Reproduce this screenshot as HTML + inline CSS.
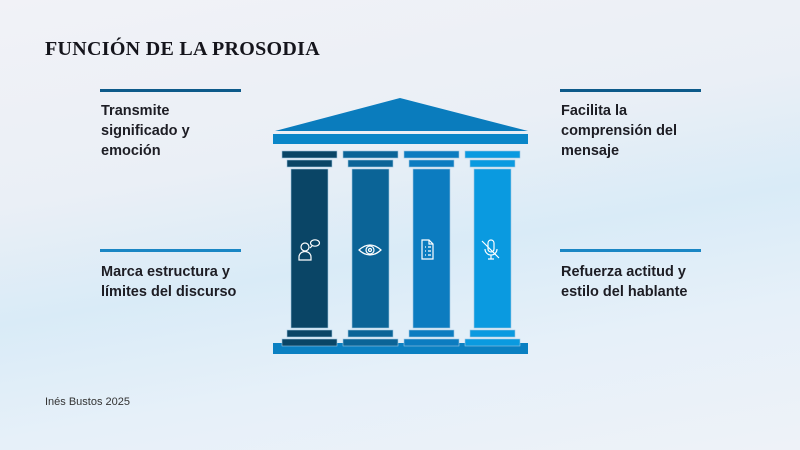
<!DOCTYPE html><html><head><meta charset="utf-8"><style>
body{margin:0;width:800px;height:450px;overflow:hidden;background:linear-gradient(170deg,#f1f2f7 0%,#eaeff6 35%,#d9ebf7 55%,#e6f0f9 75%,#eef2f8 100%);font-family:"Liberation Sans",sans-serif;position:relative}
.t{position:absolute;font-weight:bold;font-size:14.5px;line-height:20px;color:#1d1d24}
.l{position:absolute;height:3px;width:141px;background:#0d5a8a}
</style></head><body>
<div style="position:absolute;left:45px;top:38px;font-family:'Liberation Serif',serif;font-weight:bold;font-size:20px;color:#15151c;letter-spacing:0.3px">FUNCIÓN DE LA PROSODIA</div>
<div class="l" style="left:100px;top:89px"></div>
<div class="l" style="left:560px;top:89px"></div>
<div class="l" style="left:100px;top:249px;background:#1a86c4"></div>
<div class="l" style="left:560px;top:249px;background:#1a86c4"></div>
<div class="t" style="left:101px;top:101px">Transmite<br>significado y<br>emoción</div>
<div class="t" style="left:561px;top:101px">Facilita la<br>comprensión del<br>mensaje</div>
<div class="t" style="left:101px;top:262px">Marca estructura y<br>límites del discurso</div>
<div class="t" style="left:561px;top:262px">Refuerza actitud y<br>estilo del hablante</div>
<div style="position:absolute;left:45px;top:396px;font-size:11px;color:#333">Inés Bustos 2025</div>
<svg width="800" height="450" style="position:absolute;left:0;top:0">
<polygon points="400,98 275,131 528,131" fill="#0a7cbd"/>
<rect x="273" y="134" width="255" height="10" fill="#0a86c8"/>
<rect x="273" y="343" width="255" height="11" fill="#0a80c2"/>
<g stroke="#9fc6e2" stroke-width="0.6">
<g fill="#0a4566"><rect x="282" y="151" width="55" height="7"/><rect x="287" y="160" width="45" height="7"/><rect x="291" y="169" width="37" height="159"/><rect x="287" y="330" width="45" height="7"/><rect x="282" y="339" width="55" height="7"/></g>
<g fill="#0b6497" transform="translate(61,0)"><rect x="282" y="151" width="55" height="7"/><rect x="287" y="160" width="45" height="7"/><rect x="291" y="169" width="37" height="159"/><rect x="287" y="330" width="45" height="7"/><rect x="282" y="339" width="55" height="7"/></g>
<g fill="#0c7cc0" transform="translate(122,0)"><rect x="282" y="151" width="55" height="7"/><rect x="287" y="160" width="45" height="7"/><rect x="291" y="169" width="37" height="159"/><rect x="287" y="330" width="45" height="7"/><rect x="282" y="339" width="55" height="7"/></g>
<g fill="#0a9ae0" transform="translate(183,0)"><rect x="282" y="151" width="55" height="7"/><rect x="287" y="160" width="45" height="7"/><rect x="291" y="169" width="37" height="159"/><rect x="287" y="330" width="45" height="7"/><rect x="282" y="339" width="55" height="7"/></g>
</g>
<g fill="none" stroke="#fff" stroke-width="1.2">
<circle cx="305" cy="247" r="4"/><path d="M299 260v-3a6 5.5 0 0 1 12 0v3z"/><ellipse cx="315" cy="243" rx="4.5" ry="3.2"/><path d="M312 246l-2 2"/>
<path d="M359 250q11-10 22 0q-11 10-22 0z"/><circle cx="370" cy="250" r="4"/><circle cx="370" cy="250" r="1.5"/>
<path d="M422 240h7l4 4v15h-11z"/><path d="M429 240v4h4M425 247h1M428 247h3M425 251h1M428 251h3M425 255h1M428 255h3"/>
<rect x="488" y="240" width="6" height="12" rx="3"/><path d="M485 249a6 6 0 0 0 12 0M491 255v4M488 259h6M482 241l17 17"/>
</g>
</svg>
</body></html>
